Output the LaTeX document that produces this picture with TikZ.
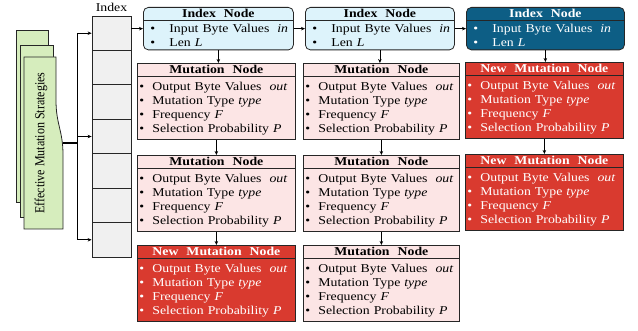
\documentclass[tikz,border=0pt]{standalone}
\usepackage{fontspec}
\setmainfont{Liberation Serif}[FakeStretch=1.15]
\newfontfamily\docfont{Liberation Serif}
\usetikzlibrary{arrows.meta}

\definecolor{idxgray}{HTML}{F0F0F0}
\definecolor{idxblue}{HTML}{DDF3FB}
\definecolor{idxdark}{HTML}{0D5E85}
\definecolor{mutpink}{HTML}{FCE5E5}
\definecolor{mutred}{HTML}{D93A2F}
\definecolor{docgreen}{HTML}{D6EDBD}
\definecolor{edge}{HTML}{262626}

\newlength\bulindent
\newlength\bulgap
\newcommand{\nodehead}[2]{\noindent\rule[-3pt]{0pt}{13pt}\makebox[\linewidth]{\bfseries #1}\par
  \begingroup\color{edge}\hrule height 0.8pt\endgroup\kern#2}
\newcommand{\bul}[1]{\noindent\rule[-3.5pt]{0pt}{14pt}\hspace*{\bulindent}\makebox[\bulgap][l]{\textbullet}#1\par}
\newcommand{\mutbody}[1]{\nodehead{#1}{2.4pt}%
  \bul{Output Byte Values~~\textit{out}}%
  \bul{Mutation Type \textit{type}}%
  \bul{Frequency \textit{F}}%
  \bul{Selection Probability \textit{P}}\kern3.8pt}
\newcommand{\idxbody}{\nodehead{Index~~Node}{0.7pt}%
  \bul{Input Byte Values~~\textit{in}}%
  \bul{Len \textit{L}}}

\begin{document}
\begin{tikzpicture}[x=1pt,y=-1pt,>={Stealth[length=4pt,width=3.5pt]}]
    \tikzstyle{cell}=[draw=edge,fill=idxgray,line width=0.8pt,minimum width=39pt,minimum height=34.43pt,inner sep=0pt]
    \tikzstyle{docpage}=[draw=edge,fill=docgreen,line width=0.8pt]
    \tikzstyle{idxnode}=[draw=edge,fill=idxblue,line width=0.8pt,rounded corners=5pt,inner sep=0pt,anchor=north west,
        font=\fontsize{12}{14}\selectfont,execute at begin node={\setlength\bulindent{7pt}\setlength\bulgap{19pt}}]
    \tikzstyle{idxdarknode}=[idxnode,fill=idxdark,text=white]
    \tikzstyle{mutnode}=[draw=edge,fill=mutpink,line width=0.8pt,inner sep=0pt,anchor=north west,
        font=\fontsize{12}{14}\selectfont,execute at begin node={\setlength\bulindent{2pt}\setlength\bulgap{13pt}}]
    \tikzstyle{newmutnode}=[mutnode,fill=mutred,text=white]
    \tikzstyle{link}=[line width=0.7pt,->]

    \useasboundingbox (0,0) rectangle (638,331);

    % strategies
    \path[docpage] (16,30) rectangle (48,202);
    \path[docpage] (20,45) rectangle (53,217);
    \path[docpage] (24,57) -- (56,57) -- (56,100) .. controls (56,125) and (63,130) .. (63,155) -- (63,229) -- (24,229) -- cycle;
    \node[rotate=90,font=\docfont\fontsize{12}{14}\selectfont] at (41,143) (strat) {\scalebox{1}[1.15]{Effective Mutation Strategies}};
    \coordinate (stratout) at (62.5,143);
    \coordinate (split) at (77,143);

    % index table
    \foreach \i in {1,...,7}
        \node[cell] at (111.5,{16+34.43*(\i-0.5)}) (c\i) {};
    \node[font=\fontsize{12}{14}\selectfont,inner sep=2pt,anchor=south] at (111.5,14) (idxlabel) {Index};

    % index nodes
    \node[idxnode,text width=150pt] at (143,7) (i1) {\idxbody};
    \node[idxnode,text width=149pt] at (305,7) (i2) {\idxbody};
    \node[idxdarknode,text width=158pt] at (466,7) (i3) {\idxbody};

    % mutation nodes
    \node[mutnode,text width=158pt] at (137,63) (m11) {\mutbody{Mutation~~Node}};
    \node[mutnode,text width=158pt] at (137,155) (m12) {\mutbody{Mutation~~Node}};
    \node[newmutnode,text width=158pt] at (137,245) (m13) {\mutbody{New~~Mutation~~Node}};

    \node[mutnode,text width=156pt] at (303,63) (m21) {\mutbody{Mutation~~Node}};
    \node[mutnode,text width=156pt] at (303,155) (m22) {\mutbody{Mutation~~Node}};
    \node[mutnode,text width=156pt] at (303,245) (m23) {\mutbody{Mutation~~Node}};

    \node[newmutnode,text width=158pt] at (465,62) (m31) {\mutbody{New~~Mutation~~Node}};
    \node[newmutnode,text width=158pt] at (465,154) (m32) {\mutbody{New~~Mutation~~Node}};

    % connectors
    \draw[line width=1.2pt] (stratout) -- (split);
    \draw[link] (split) |- (c1.west);
    \draw[link] (split) |- (c4.west);
    \draw[link] (split) |- (c7.west);

    \draw[link] (c1.east |- i1.west) -- (i1.west);
    \draw[link] (i1.east) -- (i2.west);
    \draw[link] (i2.east) -- (i3.west);

    \draw[link] (i1.south) -- (i1.south |- m11.north);
    \draw[link] (m11.south) -- (m12.north);
    \draw[link] (m12.south) -- (m13.north);

    \draw[link] (i2.south) -- (i2.south |- m21.north);
    \draw[link] (m21.south) -- (m22.north);
    \draw[link] (m22.south) -- (m23.north);

    \draw[link] (i3.south) -- (i3.south |- m31.north);
    \draw[link] (m31.south) -- (m32.north);
\end{tikzpicture}
\end{document}
